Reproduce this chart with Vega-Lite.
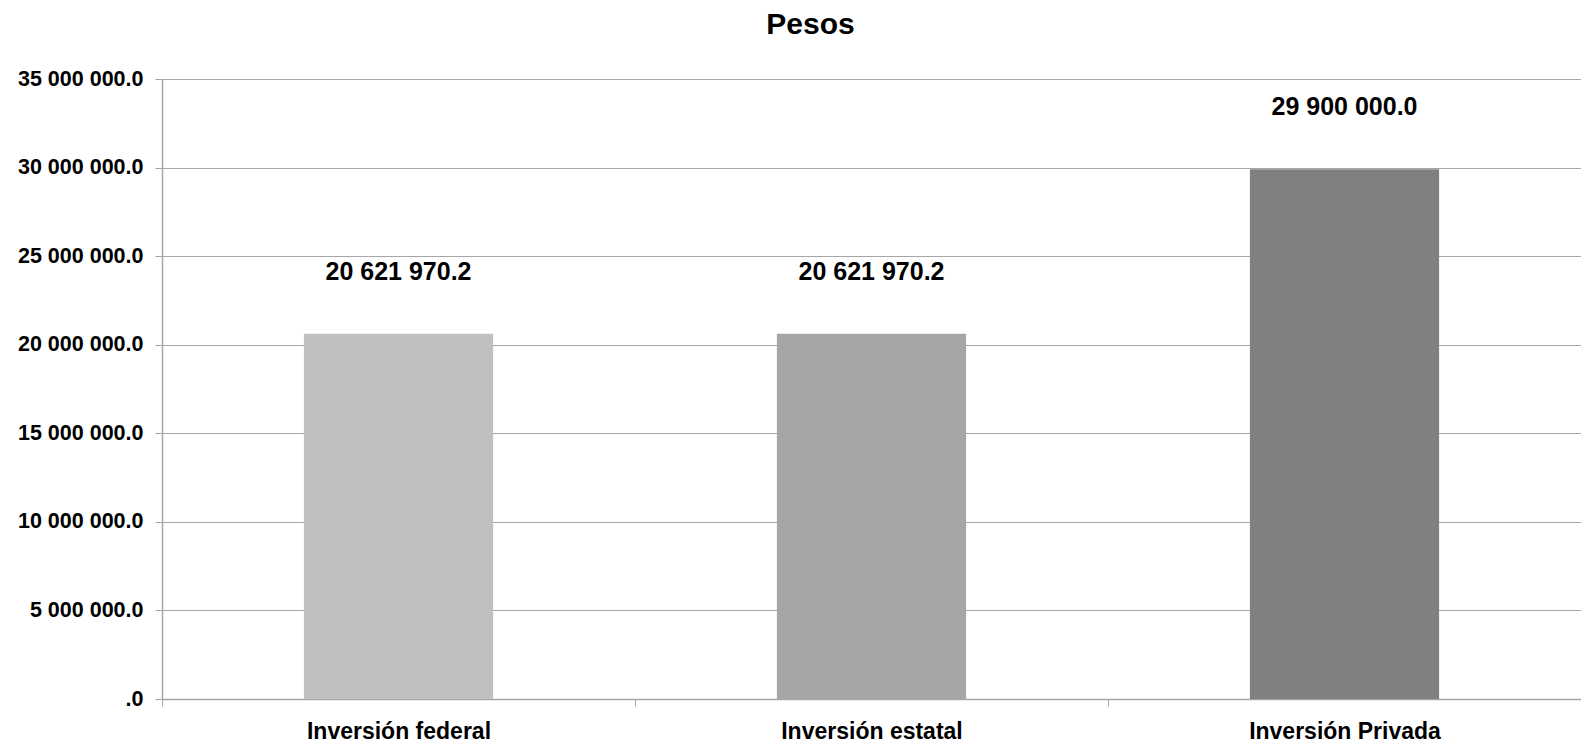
{
  "$schema": "https://vega.github.io/schema/vega-lite/v6.json",
  "autosize": "none",
  "width": 1419,
  "height": 620,
  "padding": {"left": 162, "top": 79, "right": 0, "bottom": 53},
  "background": "white",
  "title": {
    "text": "Pesos",
    "font": "Liberation Sans",
    "fontSize": 30,
    "fontWeight": "bold",
    "color": "#000000",
    "anchor": "middle",
    "dx": -61,
    "offset": 28
  },
  "config": {
    "view": {"stroke": null},
    "axis": {
      "domainColor": "#a6a6a6",
      "tickColor": "#a6a6a6",
      "gridColor": "#a6a6a6",
      "labelColor": "#000000",
      "labelFont": "Liberation Sans",
      "labelFontWeight": "bold",
      "labelLimit": 0
    }
  },
  "data": {
    "values": [
      {"categoria": "Inversión federal", "valor": 20621970.2, "etiqueta": "20 621 970.2"},
      {"categoria": "Inversión estatal", "valor": 20621970.2, "etiqueta": "20 621 970.2"},
      {"categoria": "Inversión Privada", "valor": 29900000.0, "etiqueta": "29 900 000.0"}
    ]
  },
  "encoding": {
    "x": {
      "field": "categoria",
      "type": "nominal",
      "sort": null,
      "scale": {"paddingInner": 0, "paddingOuter": 0},
      "axis": {
        "title": null,
        "labelAngle": 0,
        "labelFontSize": 23,
        "labelPadding": 14,
        "tickSize": 7,
        "tickBand": "extent",
        "domainWidth": 1.5,
        "labelBaseline": "top"
      }
    },
    "y": {
      "field": "valor",
      "type": "quantitative",
      "scale": {"domain": [0, 35000000], "nice": false},
      "axis": {
        "title": null,
        "values": [0, 5000000, 10000000, 15000000, 20000000, 25000000, 30000000, 35000000],
        "labelExpr": "datum.value == 0 ? '.0' : replace(format(datum.value, ',.1f'), /,/g, ' ')",
        "labelFontSize": 21.5,
        "labelPadding": 12,
        "tickSize": 7,
        "grid": true,
        "gridWidth": 1.2,
        "domainWidth": 1.5
      }
    }
  },
  "layer": [
    {
      "mark": {"type": "bar", "width": {"band": 0.4}},
      "encoding": {
        "color": {
          "field": "categoria",
          "type": "nominal",
          "sort": null,
          "scale": {"range": ["#c0c0c0", "#a6a6a6", "#808080"]},
          "legend": null
        }
      }
    },
    {
      "mark": {
        "type": "text",
        "dy": -62,
        "baseline": "middle",
        "font": "Liberation Sans",
        "fontSize": 25,
        "fontWeight": "bold",
        "color": "#000000"
      },
      "encoding": {
        "text": {"field": "etiqueta", "type": "nominal"}
      }
    }
  ]
}
